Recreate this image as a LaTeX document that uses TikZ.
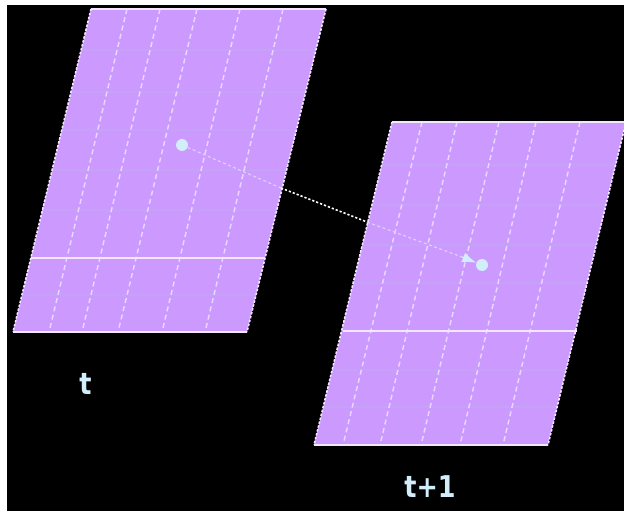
\documentclass[tikz,border=0pt]{standalone}
\usepackage{fontspec}
\setmainfont{DejaVu Sans}
\usetikzlibrary{arrows.meta}
\definecolor{planecol}{HTML}{CC99FF}
\definecolor{bandcol}{HTML}{C4A2F6}
\definecolor{edgecol}{HTML}{F3E6FF}
\definecolor{gridcol}{HTML}{E8D6FF}
\definecolor{dotcol}{HTML}{D2EEFA}
\definecolor{faintcol}{HTML}{E2CCFC}
\tikzset{
  plane/.style={fill=planecol,draw=none},
  band/.style={bandcol,line width=2.2pt},
  solidedge/.style={edgecol,line width=1.6pt},
  sideedge/.style={edgecol,line width=1.6pt,dash pattern=on 2.5pt off 1.5pt},
  gridline/.style={gridcol,line width=1.5pt,dash pattern=on 5pt off 3.5pt},
  markerdot/.style={circle,fill=dotcol,draw=none,minimum size=12pt,inner sep=0pt},
  linkfaint/.style={faintcol,line width=1.2pt,dash pattern=on 3pt off 2.5pt},
  linkbright/.style={white,line width=1.6pt,dash pattern=on 2.2pt off 2pt},
  tipline/.style={-{Latex[length=14pt,width=10pt]},dotcol,line width=1.2pt},
  lbl/.style={text=dotcol,font=\bfseries\fontsize{30}{30}\selectfont,inner sep=0pt}
}
\begin{document}
\begin{tikzpicture}[x=1pt,y=-1pt]
\useasboundingbox (0,0) rectangle (624,511);
\fill[white] (0,0) rectangle (624,511);
\fill[black] (7,5) rectangle (624,511);
\clip (0,0) rectangle (624,511);
% left plane
\fill[plane] (91,9) -- (326,9) -- (247,332) -- (13,332) -- cycle;
\foreach \y/\a/\b in {50/81/315,92/71/305,130/62/296,170/52/286,210/42/276,295/22/256}
  \draw[band] (\a,\y) -- (\b,\y);
\foreach \t/\b in {127/49,160/82,197/118,240/162,283/205}
  \draw[gridline] (\t,9) -- (\b,332);
\draw[solidedge] (91,9) -- (326,9);
\draw[solidedge] (13,332) -- (247,332);
\draw[solidedge] (31,258) -- (265,258);
\draw[sideedge] (91,9) -- (13,332);
\draw[sideedge] (326,9) -- (247,332);
% right plane
\fill[plane] (392,122) -- (626,122) -- (548,445) -- (314,445) -- cycle;
\foreach \y/\a/\b in {165/382/616,205/372/606,245/362/596,283/353/587,370/332/566,407/323/557}
  \draw[band] (\a,\y) -- (\b,\y);
\foreach \t/\b in {422/343,457/380,499/421,536/460,580/503}
  \draw[gridline] (\t,122) -- (\b,445);
\draw[solidedge] (392,122) -- (626,122);
\draw[solidedge] (314,445) -- (548,445);
\draw[solidedge] (343,331) -- (577,331);
\draw[sideedge] (392,122) -- (314,445);
\draw[sideedge] (626,122) -- (548,445);
% motion vector
\node[markerdot] (p0) at (182,145) {};
\node[markerdot] (p1) at (482,265) {};
\coordinate (e0) at (281,188);
\coordinate (e1) at (367,222);
\coordinate (e2) at (462,257);
\draw[linkfaint] (p0) -- (e0);
\draw[linkbright] (e0) -- (e1);
\draw[linkfaint] (e1) -- (e2);
\draw[tipline] (e2) -- (p1);
% labels
\node[lbl] (lt) at (85.5,384) {\scalebox{.85}[1]{t}};
\node[lbl] (ltt) at (430,487) {\scalebox{.85}[1]{t+1}};
\end{tikzpicture}
\end{document}
